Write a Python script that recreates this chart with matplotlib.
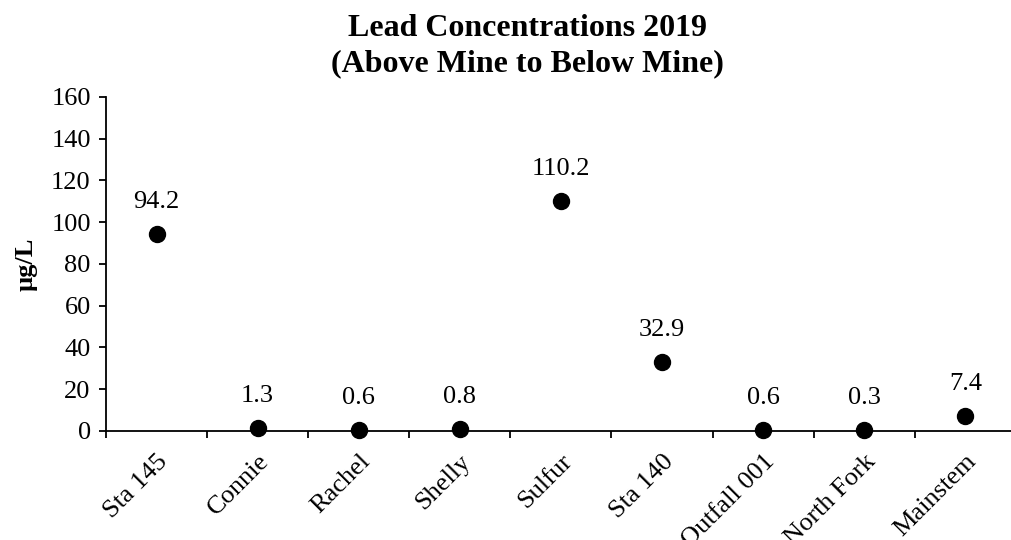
import matplotlib
matplotlib.use('Agg')
import matplotlib.pyplot as plt
import numpy as np

#%% data
sites = ['Sta 145', 'Connie', 'Rachel', 'Shelly', 'Sulfur', 'Sta 140',
         'Outfall 001', 'North Fork', 'Mainstem']
lead = [94.2, 1.3, 0.6, 0.8, 110.2, 32.9, 0.6, 0.3, 7.4]
y_ticks = [0, 20, 40, 60, 80, 100, 120, 140, 160]

#%% plot
plt.rcParams['font.family'] = ['Liberation Serif', 'DejaVu Serif']
fig = plt.figure(figsize=[10.11, 5.4], dpi=100)
ax = fig.add_axes([0.1048, 0.2019, 0.9, 0.6185])

x = np.arange(len(sites))
ax.plot(x, lead, 'o', color='black', markersize=11.5, linestyle='none', clip_on=False, zorder=3)
for xi, v in zip(x, lead):
    ax.annotate(f'{v:.1f}', (xi, v), xytext=(0, 23), textcoords='offset points',
                ha='center', va='center', fontsize=19)

ax.set_xlim(-0.5, len(sites) - 0.5)
ax.set_ylim(0, 160)
ax.set_yticks(y_ticks)
ax.tick_params(axis='y', labelsize=19, length=5, width=1.3, direction='out', pad=6)

ax.set_xticks(x)
ax.set_xticklabels(sites, rotation=45, ha='right', rotation_mode='anchor', fontsize=19)
ax.tick_params(axis='x', which='major', length=0, pad=14)
ax.set_xticks(np.arange(len(sites) + 1) - 0.5, minor=True)
ax.tick_params(axis='x', which='minor', length=5, width=1.3, direction='out')

for s in ['top', 'right']:
    ax.spines[s].set_visible(False)
for s in ['left', 'bottom']:
    ax.spines[s].set_linewidth(1.3)

ax.set_ylabel('µg/L', fontsize=19, fontweight='bold', labelpad=10)
fig.text(0.522, 0.975, 'Lead Concentrations 2019\n(Above Mine to Below Mine)', fontsize=23,
         fontweight='bold', ha='center', va='top', linespacing=1.3)

fig.savefig('out.png', dpi=100)
